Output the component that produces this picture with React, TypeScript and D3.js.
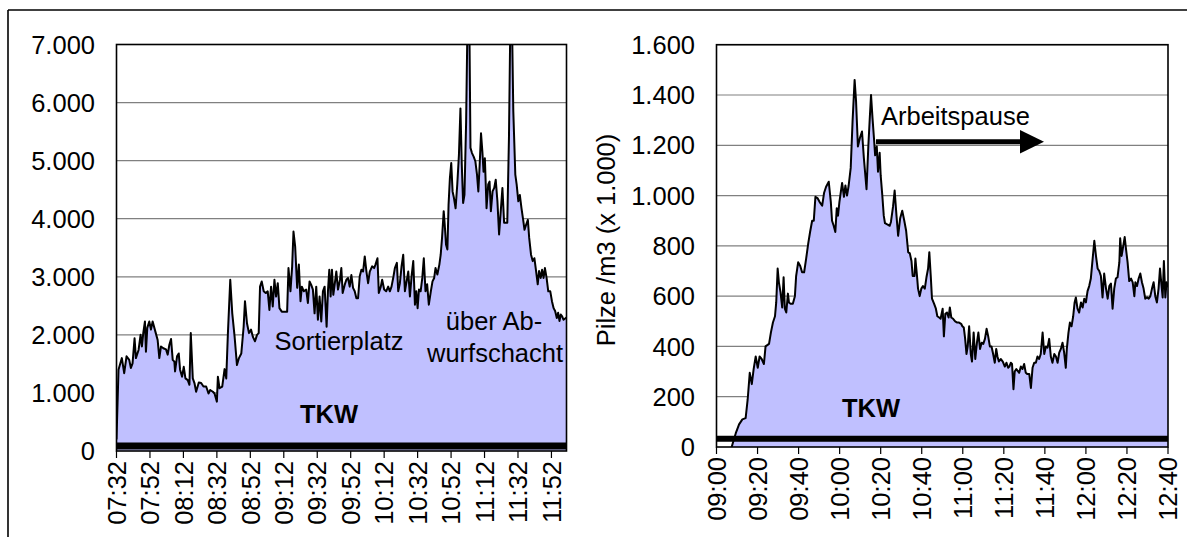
import React from 'react';
import * as d3 from 'd3';

// ---------- Left chart (TKW, Sortierplatz / Abwurfschacht), minutes after 07:32 ----------
const leftMinutes = [
  0, 1.2, 3.2, 4.6, 6, 7.6, 8.6, 9.6, 10.8, 11.6, 13.2, 14.4, 15.2, 16, 17, 17.6, 18.4, 19.6, 20.6, 21.6,
  23.2, 24.6, 25.6, 26.6, 28, 29.6, 30.6, 31.6, 32.6, 33.6, 34.6, 35, 36.2, 37.2, 38, 39.2, 40.2, 41.2, 42.6, 43.6,
  44.4, 45.6, 46.6, 47.6, 49.2, 50.6, 52, 53.6, 55, 56, 57.6, 58.6, 60, 60.6, 61.6, 63.2, 64.6, 65.6, 66.6, 68,
  69.2, 70.6, 72, 73.2, 74.6, 76, 76.8, 78, 79.2, 80.4, 81.6, 82.8, 84, 85, 85.8, 86.8, 88, 89.2, 90.4, 91.4,
  92.4, 93.4, 94.4, 95.4, 96.4, 97.4, 98.8, 100.8, 102, 102.8, 104, 105, 105.8, 106.8, 108, 109, 110, 110.8, 112, 113.4,
  114.4, 115.4, 116.4, 117.4, 118.4, 119.4, 120.4, 121.4, 122.4, 123.4, 124.4, 125.6, 126.4, 127.2, 128, 128.8, 129.6, 130.4, 131.4, 132.4,
  133.6, 134.4, 135.2, 136.4, 137.4, 138.4, 139.4, 140.4, 141.4, 142.4, 143.4, 144.4, 145.4, 146.4, 147.4, 148.4, 149.4, 150.4, 151.4, 152.8,
  154, 154.8, 156, 156.8, 158, 158.8, 160, 161.2, 162.4, 163.4, 164.4, 165.6, 166.4, 167.6, 168.4, 169.4, 170.4, 171.4, 172.4, 173.6,
  174.4, 175.4, 176.4, 177.4, 178.4, 179.2, 180, 180.8, 181.8, 182.8, 183.7, 184.7, 185.7, 186.7, 187.9, 188.9, 189.9, 190.7, 191.8, 193,
  193.8, 194.6, 195.6, 196.2, 197, 197.8, 198.5, 199.3, 200.1, 200.9, 201.7, 202.7, 203.7, 204.7, 205.6, 206.4, 207.2, 208, 209, 210,
  210.8, 211.6, 212.5, 213.5, 214.5, 215.5, 216.3, 217.1, 217.9, 218.7, 219.4, 220.2, 221.2, 222.2, 223, 223.8, 224.8, 225.8, 226.7, 227.7,
  228.7, 229.7, 230.7, 231.7, 232.7, 233.6, 234.6, 235.6, 236.2, 237.2, 238.4, 239.2, 240.2, 241.1, 242.1, 243.1, 243.9, 244.9, 245.9, 246.7,
  247.8, 248.8, 249.8, 250.8, 251.8, 252.6, 253.6, 254.4, 255.3, 256.1, 257.1, 258.1, 259.3, 260.3, 261.3, 262.2, 263.2, 264, 264.8, 265.6,
  266.4, 267.2, 269,
];
const leftValues = [
  200, 1400, 1600, 1340, 1630, 1570, 1430, 1510, 1940, 1600, 1740, 2000, 1800, 2030, 2230, 1710, 2120, 2230, 2090, 2230,
  2060, 1910, 1600, 1800, 1770, 1750, 1660, 1830, 1930, 1570, 1540, 1370, 1630, 1680, 1400, 1280, 1450, 1250, 1220, 1140,
  2030, 1250, 1170, 1020, 1180, 1170, 1110, 1110, 990, 1050, 1020, 990, 850, 1280, 1080, 1110, 1410, 1250, 2030, 2950,
  2370, 1970, 1480, 1600, 1680, 2140, 2580, 2200, 2030, 2090, 1960, 1890, 2000, 2030, 2830, 2920, 2750, 2720, 2750, 2430,
  2830, 2490, 2950, 2660, 2890, 2460, 2400, 2400, 2400, 3150, 2750, 3180, 3780, 3520, 2810, 3210, 2580, 2830, 2750, 2780,
  2550, 2920, 2860, 2780, 2370, 2830, 2260, 2660, 2230, 2750, 2830, 2140, 2750, 3120, 2660, 3120, 2690, 2860, 3090, 2780,
  2950, 3150, 2720, 2860, 2950, 2980, 2830, 3030, 2810, 2750, 2630, 2630, 3010, 3120, 3090, 3350, 3090, 2890, 3090, 3180,
  3150, 3210, 3320, 2720, 2830, 2950, 2780, 2750, 2830, 2750, 2830, 3010, 3150, 3240, 2750, 2890, 3180, 3380, 2750, 2950,
  3090, 2660, 3010, 3270, 2520, 2750, 2460, 2780, 2750, 2980, 3320, 2750, 2870, 2520, 2750, 2920, 2980, 3150, 3040, 3210,
  3380, 3670, 4130, 3900, 3550, 3470, 4240, 4700, 4960, 4470, 4360, 4180, 4590, 5100, 5900, 4930, 4270, 4410, 5670, 7800,
  7800, 5220, 5130, 5070, 4990, 4760, 4470, 4930, 5470, 5160, 4810, 5040, 4180, 4590, 4640, 4130, 4470, 4530, 4670, 4300,
  3730, 4130, 4530, 3930, 3930, 3930, 5390, 7800, 7800, 5850, 4760, 4590, 4300, 4410, 4180, 3980, 3810, 3900, 3980, 3670,
  3380, 3270, 3320, 3100, 2870, 3100, 2980, 3120, 2980, 3150, 2980, 2750, 2750, 2580, 2460, 2410, 2290, 2380, 2240, 2350,
  2320, 2260, 2300,
];
const leftTkwLevel = 85;
const leftTickLabels = ['07:32', '07:52', '08:12', '08:32', '08:52', '09:12', '09:32', '09:52', '10:12', '10:32', '10:52', '11:12', '11:32', '11:52'];
const leftYTicks = [0, 1000, 2000, 3000, 4000, 5000, 6000, 7000];
const leftEndMinute = 269;

// ---------- Right chart (TKW, Arbeitspause), minutes after 09:00 ----------
const rightMinutes = [
  7.4, 8.1, 9.4, 11, 12.6, 14.2, 15.2, 16.2, 17.2, 18.1, 19.1, 20.1, 21, 22, 23.1, 23.9, 25.6, 26.5, 27.5, 28.5,
  29.1, 29.8, 30.4, 31.2, 32, 32.7, 33.3, 34, 34.8, 35.3, 36.1, 37.2, 38.2, 38.8, 39.8, 40.8, 41.7, 42.7, 43.7, 44.7,
  45.6, 46.6, 47.4, 48.2, 49.2, 50.2, 51.5, 52.4, 53.4, 54.7, 55.7, 56.3, 57.1, 57.9, 58.6, 59.2, 59.9, 60.5, 61.2, 62.1,
  62.8, 63.6, 64.4, 65.4, 66.3, 67.3, 68, 68.9, 69.9, 70.9, 71.8, 73.1, 74, 74.7, 75.3, 76, 76.8, 77.3, 78.1, 78.7,
  79.5, 80, 80.8, 81.5, 82.1, 83.2, 84.4, 85, 86, 86.8, 87.7, 88.5, 89.5, 90.5, 91.5, 92.4, 93.4, 94.2, 95, 95.6,
  96.5, 96.9, 97.7, 98.2, 99, 99.8, 100.6, 101.5, 102.3, 103.1, 103.7, 104.4, 105, 106, 106.9, 107.6, 108.5, 109.2, 110.2, 110.8,
  111.5, 112.3, 113.1, 113.7, 114.4, 115.3, 116.3, 117.3, 118.2, 119.2, 119.8, 120.5, 121.1, 121.8, 122.4, 123.1, 123.9, 124.5, 125.3, 126.1,
  126.9, 127.6, 128.4, 129.2, 130, 130.8, 131.6, 132.4, 133.2, 134, 134.8, 135.6, 136.3, 136.9, 137.6, 138.5, 139.5, 140.5, 141.3, 142.1,
  142.7, 143.4, 144, 144.7, 145.3, 146.1, 147.5, 148.3, 149.1, 149.9, 150.7, 151.5, 152.4, 153.2, 154, 154.8, 155.6, 156.4, 157.2, 158,
  158.9, 159.7, 160.5, 161.3, 162.1, 162.9, 163.7, 164.6, 165.4, 166.2, 167, 167.8, 168.6, 169.4, 170.2, 170.7, 171.5, 172.2, 173, 173.8,
  174.5, 175.1, 175.9, 176.7, 177.6, 178.4, 179.2, 180, 180.8, 181.6, 182.4, 183.3, 184.1, 184.9, 185.7, 186.5, 187.3, 188.1, 188.9, 189.8,
  190.6, 191.4, 192.2, 193, 193.8, 194.6, 195.4, 196.3, 196.7, 197.4, 198.2, 198.9, 199.5, 200.3, 201.1, 202, 202.8, 203.6, 204.1, 204.9,
  205.7, 206.5, 207.3, 208.1, 208.9, 209.8, 210.6, 211.4, 212.2, 213, 213.8, 214.6, 215.4, 216.1, 216.7, 217.4, 218, 218.7, 219.3, 220,
];
const rightValues = [
  0, 20, 55, 90, 110, 115, 190, 295, 250, 310, 360, 315, 360, 350, 330, 400, 410, 455, 495, 520,
  575, 710, 655, 615, 555, 675, 550, 535, 610, 575, 570, 570, 600, 680, 735, 720, 695, 695, 750, 810,
  855, 900, 900, 995, 990, 975, 960, 1010, 1035, 1055, 975, 900, 880, 855, 950, 920, 975, 1010, 1050, 995,
  1040, 1000, 1040, 1110, 1295, 1460, 1375, 1195, 1230, 1255, 1150, 1025, 1200, 1310, 1400, 1310, 1220, 1160, 1195, 1095,
  1170, 1080, 1000, 920, 890, 885, 880, 895, 955, 1020, 920, 840, 910, 940, 900, 860, 775, 770, 740, 680,
  680, 750, 680, 630, 600, 630, 640, 630, 675, 710, 775, 680, 590, 570, 550, 520, 515, 510, 550, 440,
  530, 535, 515, 555, 515, 510, 500, 495, 495, 490, 480, 475, 435, 370, 400, 480, 370, 340, 455, 350,
  415, 455, 390, 415, 410, 430, 470, 440, 400, 400, 370, 335, 390, 360, 340, 350, 340, 320, 335, 315,
  320, 335, 330, 230, 300, 310, 295, 320, 310, 330, 295, 290, 290, 235, 315, 335, 335, 360, 350, 370,
  455, 370, 400, 395, 430, 360, 335, 370, 360, 335, 375, 390, 415, 375, 315, 390, 455, 495, 480, 520,
  575, 595, 550, 535, 575, 555, 590, 575, 620, 640, 670, 750, 820, 760, 710, 700, 680, 595, 690, 630,
  590, 640, 650, 550, 630, 670, 675, 735, 830, 760, 800, 835, 790, 735, 660, 670, 655, 600, 655, 640,
  670, 690, 655, 630, 590, 595, 590, 600, 630, 655, 600, 575, 630, 710, 655, 595, 740, 595, 655, 635,
];
const rightTkwLevel = 33;
const rightTickLabels = ['09:00', '09:20', '09:40', '10:00', '10:20', '10:40', '11:00', '11:20', '11:40', '12:00', '12:20', '12:40'];
const rightYTicks = [0, 200, 400, 600, 800, 1000, 1200, 1400, 1600];
const rightEndMinute = 220;
const rightYTitle = 'Pilze /m3 (x 1.000)';

const FONT = '"Liberation Sans", Arial, Helvetica, sans-serif';
const FS = 25.5;
const FILL = '#c0c0ff';
const deFormat = d3.formatLocale({ decimal: ',', thousands: '.', grouping: [3], currency: ['', ''] }).format(',');
const parseHM = d3.timeParse('%H:%M');

type Box = { x0: number; x1: number; y0: number; y1: number };

function Panel(props: {
  id: string;
  box: Box;
  minutes: number[];
  values: number[];
  tkw: number;
  tkwWidth: number;
  tickLabels: string[];
  yTicks: number[];
  endMinute: number;
  labelRight: number;
  children?: React.ReactNode;
}) {
  const { id, box, minutes, values, tkw, tkwWidth, tickLabels, yTicks, endMinute, labelRight } = props;
  const x = d3.scaleLinear().domain([0, endMinute]).range([box.x0, box.x1]);
  const y = d3.scaleLinear().domain([0, yTicks[yTicks.length - 1]]).range([box.y1, box.y0]);
  const pts = minutes.map((m, i) => ({ t: m, v: values[i] }));
  const area = d3.area<{ t: number; v: number }>().x((d) => x(d.t)).y0(y(0)).y1((d) => y(d.v));
  const line = d3.line<{ t: number; v: number }>().x((d) => x(d.t)).y((d) => y(d.v));
  const start = parseHM(tickLabels[0]) as Date;
  const tickMinutes = tickLabels.map((l) => ((parseHM(l) as Date).getTime() - start.getTime()) / 60000);
  return (
    <g>
      <defs>
        <clipPath id={id}>
          <rect x={box.x0} y={box.y0} width={box.x1 - box.x0} height={box.y1 - box.y0} />
        </clipPath>
      </defs>
      <rect x={box.x0} y={box.y0} width={box.x1 - box.x0} height={box.y1 - box.y0} fill="#fff" />
      {yTicks.slice(1).map((v) => (
        <line key={v} x1={box.x0} x2={box.x1} y1={y(v)} y2={y(v)} stroke="#808080" strokeWidth={1.2} />
      ))}
      <g clipPath={`url(#${id})`}>
        <path d={area(pts) || ''} fill={FILL} />
        <path d={line(pts) || ''} fill="none" stroke="#000" strokeWidth={2} strokeLinejoin="round" />
      </g>
      <line x1={x(0)} x2={x(endMinute)} y1={y(tkw)} y2={y(tkw)} stroke="#000" strokeWidth={tkwWidth} />
      <rect x={box.x0} y={box.y0} width={box.x1 - box.x0} height={box.y1 - box.y0} fill="none" stroke="#000" strokeWidth={1.6} />
      {tickMinutes.map((m, i) => (
        <g key={tickLabels[i]}>
          <line x1={x(m)} x2={x(m)} y1={box.y1} y2={box.y1 + 7} stroke="#000" strokeWidth={1.2} />
          <text
            transform={`translate(${x(m)},${box.y1 + 10}) rotate(-90)`}
            textAnchor="end"
            dy="0.36em"
            fontFamily={FONT}
            fontSize={FS}
          >
            {tickLabels[i]}
          </text>
        </g>
      ))}
      {yTicks.map((v) => (
        <text key={v} x={labelRight} y={y(v)} dy="0.36em" textAnchor="end" fontFamily={FONT} fontSize={FS}>
          {deFormat(v)}
        </text>
      ))}
      {props.children}
    </g>
  );
}

export default function App() {
  return (
    <svg
      width={1187}
      height={537}
      style={{ position: 'absolute', left: 0, top: 0, background: '#fff' }}
      fontFamily={FONT}
    >
      <rect x={0} y={0} width={1187} height={537} fill="#fff" />
      <line x1={8} x2={1187} y1={10} y2={10} stroke="#000" strokeWidth={1.6} />
      <line x1={8} x2={8} y1={10} y2={537} stroke="#000" strokeWidth={1.6} />

      <Panel
        id="clipL"
        box={{ x0: 116.5, x1: 566.5, y0: 44.5, y1: 451 }}
        minutes={leftMinutes}
        values={leftValues}
        tkw={leftTkwLevel}
        tkwWidth={7}
        tickLabels={leftTickLabels}
        yTicks={leftYTicks}
        endMinute={leftEndMinute}
        labelRight={95}
      >
        <text x={339} y={350} textAnchor="middle" fontSize={FS} fontFamily={FONT}>Sortierplatz</text>
        <text x={494} y={330} textAnchor="middle" fontSize={FS} fontFamily={FONT}>über Ab-</text>
        <text x={495} y={362} textAnchor="middle" fontSize={FS} fontFamily={FONT}>wurfschacht</text>
        <text x={329} y={423} textAnchor="middle" fontSize={FS} fontWeight="bold" fontFamily={FONT}>TKW</text>
      </Panel>

      <Panel
        id="clipR"
        box={{ x0: 716.5, x1: 1168, y0: 44.7, y1: 447 }}
        minutes={rightMinutes}
        values={rightValues}
        tkw={rightTkwLevel}
        tkwWidth={6}
        tickLabels={rightTickLabels}
        yTicks={rightYTicks}
        endMinute={rightEndMinute}
        labelRight={695}
      >
        <text x={881} y={125} fontSize={FS} fontFamily={FONT}>Arbeitspause</text>
        <line x1={876} x2={1022} y1={141.7} y2={141.7} stroke="#000" strokeWidth={5} />
        <path d="M1020,130 L1044,141.7 L1020,153.4 Z" fill="#000" />
        <text x={871} y={417} textAnchor="middle" fontSize={FS} fontWeight="bold" fontFamily={FONT}>TKW</text>
        <text
          transform="translate(606,240) rotate(-90)"
          textAnchor="middle"
          dy="0.36em"
          fontSize={FS}
          fontFamily={FONT}
        >
          {rightYTitle}
        </text>
      </Panel>
    </svg>
  );
}
